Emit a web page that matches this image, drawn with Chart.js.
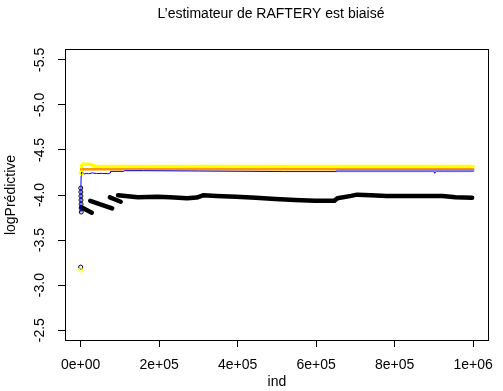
<!DOCTYPE html>
<html>
<head>
<meta charset="utf-8">
<script src="https://cdn.jsdelivr.net/npm/chart.js@4.4.1/dist/chart.umd.min.js"></script>
<style>
  html, body { margin: 0; padding: 0; background: #fff; }
  canvas { display: block; }
</style>
</head>
<body>
<canvas id="c" width="503" height="391"></canvas>
<script>
// Axis ticks
const xTicks = [0, 200000, 400000, 600000, 800000, 1000000];
const xTickLabels = ['0e+00', '2e+05', '4e+05', '6e+05', '8e+05', '1e+06'];
const yTicks = [-5.5, -5.0, -4.5, -4.0, -3.5, -3.0, -2.5];
const yTickLabels = ['-5.5', '-5.0', '-4.5', '-4.0', '-3.5', '-3.0', '-2.5'];
const mainTitle = 'L\u2019estimateur de RAFTERY est biais\u00e9';

// Black series: first value, early scattered values, then the running runs
const blackStartInd = [0];
const blackStartVal = [-3.20];
const blackEarlyInd = [200, 400, 600, 800, 1000, 1200, 1400];
const blackEarlyVal = [-4.077, -4.033, -3.988, -3.944, -3.899, -3.855, -3.811];
const blackRunAInd = [1750, 15000, 28300];
const blackRunAVal = [-3.863, -3.833, -3.803];
const blackRunBInd = [24300, 52000, 80200];
const blackRunBVal = [-3.936, -3.894, -3.852];
const blackRunCInd = [74400, 88000, 102000];
const blackRunCVal = [-3.974, -3.950, -3.925];
const blackRunDInd = [95200, 120300, 145400, 195500, 228100, 270700, 295700, 313300, 345900,
  396000, 446100, 496200, 546400, 596500, 646600, 654100, 689200, 704300, 739400, 779500,
  822100, 922300, 954900, 997500];
const blackRunDVal = [-3.998, -3.985, -3.974, -3.981, -3.974, -3.963, -3.972, -3.998, -3.990,
  -3.981, -3.969, -3.955, -3.944, -3.936, -3.936, -3.963, -3.990, -4.004, -3.998, -3.988,
  -3.988, -3.988, -3.974, -3.969];

// Yellow series
const yellowPtInd = [0, 1000];
const yellowPtVal = [-3.167, -4.244];
const yellowInd = [1000, 2500, 6000, 25000, 40000, 1000000];
const yellowVal = [-4.244, -4.330, -4.342, -4.340, -4.316, -4.316];

// Orange series
const orangeInd = [1200, 1000000];
const orangeVal = [-4.287, -4.287];

// Blue series
const blueInd = [300, 700, 1000, 1500, 3000, 6000, 9000, 14000, 20000, 30000, 40000, 55000,
  70000, 75000, 76000, 110000, 112000, 160000, 300000, 520000, 654000, 900000, 902000,
  905000, 1000000];
const blueVal = [-3.81, -4.10, -4.21, -4.255, -4.240, -4.250, -4.232, -4.240, -4.236, -4.245,
  -4.238, -4.240, -4.236, -4.244, -4.262, -4.262, -4.270, -4.270, -4.266, -4.260, -4.260,
  -4.260, -4.240, -4.260, -4.260];

// Light blue series
const lightBlueInd = [654000, 1000000];
const lightBlueVal = [-4.272, -4.272];

const pts = (xs, ys) => xs.map((x, i) => ({ x: x, y: ys[i] }));
const FONT = 'Liberation Sans, Arial, Helvetica, sans-serif';

const lineSet = (xs, ys, color, width, order) => ({
  data: pts(xs, ys), showLine: true, borderColor: color, borderWidth: width,
  pointRadius: 0, fill: false, order: order, borderCapStyle: 'round', borderJoinStyle: 'round'
});
const pointSet = (xs, ys, color, order) => ({
  data: pts(xs, ys), showLine: false, pointStyle: 'circle', pointRadius: 2,
  pointBorderWidth: 1, pointBorderColor: color, pointBackgroundColor: 'rgba(0,0,0,0)', order: order
});

// Frame around the plotting region and the main title above it
const framePlugin = {
  id: 'plotFrame',
  afterDraw(chart) {
    const { ctx, chartArea: a } = chart;
    ctx.save();
    ctx.strokeStyle = '#000';
    ctx.lineWidth = 1;
    const l = Math.round(a.left) + 0.5, t = Math.round(a.top) + 0.5;
    const r = Math.round(a.right) - 0.5, b = Math.round(a.bottom) - 0.5;
    ctx.strokeRect(l, t, r - l, b - t);
    ctx.fillStyle = '#000';
    ctx.font = '14px ' + FONT;
    ctx.textAlign = 'center';
    ctx.textBaseline = 'middle';
    ctx.fillText(mainTitle, 271, 14);
    ctx.restore();
  }
};

new Chart(document.getElementById('c'), {
  type: 'scatter',
  data: {
    datasets: [
      pointSet(yellowPtInd, yellowPtVal, '#ffff00', 1),
      pointSet(blackStartInd, blackStartVal, '#000000', 2),
      lineSet(lightBlueInd, lightBlueVal, '#8080ff', 2.5, 3),
      lineSet(blueInd, blueVal, '#0000ff', 1, 4),
      lineSet(orangeInd, orangeVal, '#ff9900', 2.5, 5),
      lineSet(yellowInd, yellowVal, '#ffff00', 3.5, 6),
      pointSet(blackEarlyInd, blackEarlyVal, '#000000', 7),
      lineSet(blackRunAInd, blackRunAVal, '#000000', 4.5, 8),
      lineSet(blackRunBInd, blackRunBVal, '#000000', 4.5, 8),
      lineSet(blackRunCInd, blackRunCVal, '#000000', 4.5, 8),
      lineSet(blackRunDInd, blackRunDVal, '#000000', 4.5, 8)
    ]
  },
  options: {
    responsive: false,
    animation: false,
    devicePixelRatio: 1,
    layout: { padding: { left: 0, right: 6, top: 49, bottom: 0 } },
    plugins: {
      legend: { display: false },
      tooltip: { enabled: false },
      title: { display: false }
    },
    scales: {
      x: {
        type: 'linear',
        min: -40000,
        max: 1040000,
        afterBuildTicks: s => { s.ticks = xTicks.map(v => ({ value: v })); },
        afterFit: s => { s.height = 50; },
        ticks: {
          autoSkip: false, maxRotation: 0, padding: 10, color: '#000',
          font: { family: FONT, size: 14 },
          callback: v => xTickLabels[xTicks.indexOf(v)]
        },
        grid: { display: true, drawOnChartArea: false, drawTicks: true, tickLength: 6, color: '#000' },
        border: { display: false },
        title: {
          display: true, text: 'ind', color: '#000',
          font: { family: FONT, size: 14 }, padding: { top: 0, bottom: 0 }
        }
      },
      y: {
        type: 'linear',
        reverse: true,
        min: -5.62,
        max: -2.38,
        afterBuildTicks: s => { s.ticks = yTicks.map(v => ({ value: v })); },
        afterFit: s => { s.width = 65; },
        ticks: {
          autoSkip: false, minRotation: 90, maxRotation: 90, crossAlign: 'center',
          padding: 6, color: '#000', font: { family: FONT, size: 14 },
          callback: v => yTickLabels[yTicks.indexOf(v)]
        },
        grid: { display: true, drawOnChartArea: false, drawTicks: true, tickLength: 7, color: '#000' },
        border: { display: false },
        title: {
          display: true, text: 'logPr\u00e9dictive', color: '#000',
          font: { family: FONT, size: 14 }, padding: { top: 3, bottom: 0 }
        }
      }
    }
  },
  plugins: [framePlugin]
});
</script>
</body>
</html>
